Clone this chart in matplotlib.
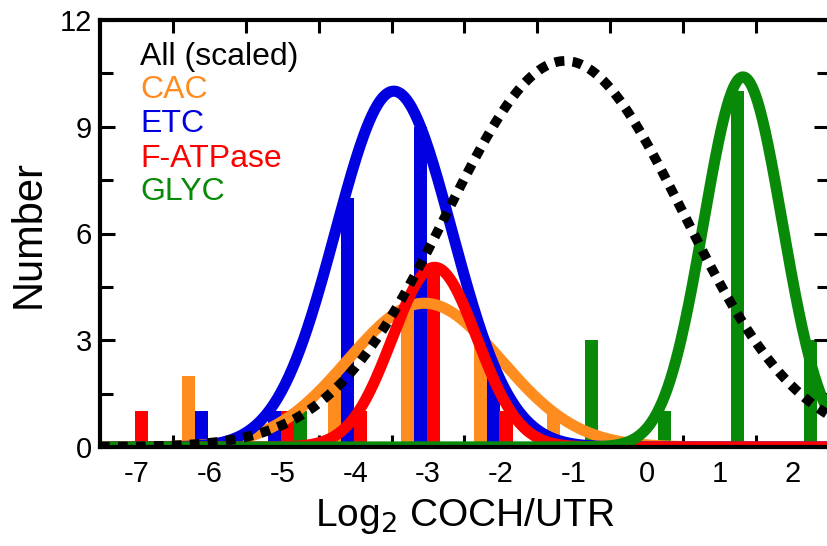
import numpy as np
import matplotlib
matplotlib.use("Agg")
import matplotlib.pyplot as plt
from matplotlib.ticker import FixedLocator, NullFormatter, FixedFormatter

plt.rcParams['font.family'] = ['Liberation Sans', 'DejaVu Sans']

# histogram bins (log2 COCH/UTR, bin centres) and counts per group
bins = [-7, -6, -5, -4, -3, -2, -1, 0, 1, 2]
cac_counts = [0, 2, 0, 2, 4, 3, 1, 0, 0, 0]
etc_counts = [0, 1, 1, 7, 9, 2, 0, 0, 0, 0]
atp_counts = [1, 0, 1, 1, 5, 1, 0, 0, 0, 0]
glyc_counts = [0, 0, 1, 0, 0, 0, 3, 1, 10, 3]

# gaussian fits: peak height, centre, width
names = ["All (scaled)", "CAC", "ETC", "F-ATPase", "GLYC"]
fit_peak = [10.85, 4.04, 10.0, 5.05, 10.4]
fit_centre = [-1.12, -3.05, -3.47, -2.91, 1.32]
fit_width = [1.62, 1.05, 0.80, 0.58, 0.54]

colors = ["black", "#ff8c1e", "#0000e0", "#ff0000", "#088a08"]

fig = plt.figure(figsize=(8.27, 5.46), dpi=100)
ax = fig.add_axes([100 / 827, 99 / 546, 729 / 827, 427 / 546])

bw = 0.18
offsets = [-0.28, -0.105, 0.07, 0.245]
groups = [cac_counts, etc_counts, atp_counts, glyc_counts]
bx = np.array(bins, dtype=float)
for i, counts in enumerate(groups):
    ax.bar(bx + offsets[i], counts, width=bw, color=colors[i + 1],
           linewidth=0, zorder=1)

xs = np.linspace(-7.5, 2.5, 800)
order = [1, 2, 3, 4, 0]
for k in order:
    ys = fit_peak[k] * np.exp(-(xs - fit_centre[k]) ** 2 / (2 * fit_width[k] ** 2))
    if k == 0:
        ax.plot(xs, ys, color="black", lw=7, linestyle=(0, (1.0, 0.85)),
                dash_capstyle="butt", zorder=7)
    else:
        ax.plot(xs, ys, color=colors[k], lw=8, solid_capstyle="butt",
                zorder=2 + k)

ax.set_xlim(-7.5, 2.5)
ax.set_ylim(0, 12)

# x: ticks at bin edges, labels at bin centres
ax.xaxis.set_major_locator(FixedLocator(np.arange(-6.5, 2.6, 1.0)))
ax.xaxis.set_major_formatter(NullFormatter())
ax.xaxis.set_minor_locator(FixedLocator(bins))
ax.xaxis.set_minor_formatter(FixedFormatter([str(b) for b in bins]))
ax.tick_params(axis="x", which="major", direction="in", length=9, width=2.2,
               top=True, bottom=True)
ax.tick_params(axis="x", which="minor", length=0, pad=9, labelsize=21)

ax.yaxis.set_major_locator(FixedLocator([0, 3, 6, 9, 12]))
ax.yaxis.set_minor_locator(FixedLocator([1.5, 4.5, 7.5, 10.5]))
ax.tick_params(axis="y", which="major", direction="in", length=11, width=2.2,
               left=True, right=True, labelsize=21, pad=6)
ax.tick_params(axis="y", which="minor", direction="in", length=9, width=2.2,
               left=True, right=True)

for s in ax.spines.values():
    s.set_linewidth(3)
    s.set_zorder(10)

ax.set_xlabel("Log$_2$ COCH/UTR", fontsize=28, labelpad=6)
ax.set_ylabel("Number", fontsize=30, labelpad=8)

label_y = [10.73, 9.80, 8.85, 7.87, 6.94]
for k in range(5):
    ax.text(-6.95, label_y[k], names[k], color=colors[k], fontsize=23,
            va="baseline", ha="left", zorder=12)

fig.savefig("out.png", dpi=100)
